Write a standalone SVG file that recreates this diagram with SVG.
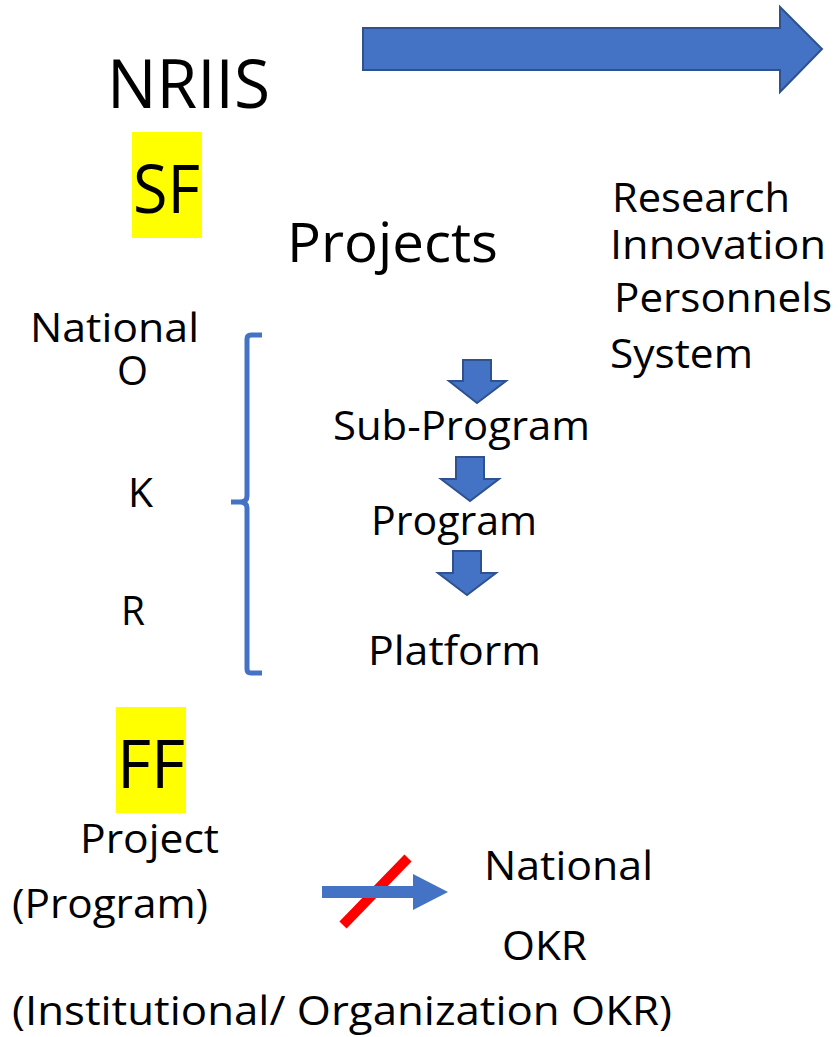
<svg xmlns="http://www.w3.org/2000/svg" width="840" height="1037" viewBox="0 0 840 1037">
<style>
text{font-family:"Open Sans","Noto Sans","Liberation Sans",sans-serif;fill:#000}
.t40{font-size:40px}
.big{font-size:68px}
.blue{fill:#4472C4;stroke:#2F528F;stroke-width:2}
.hl{fill:#FFFF00}
</style>
<rect width="840" height="1037" fill="#fff"/>
<g id="nriis"><text class="big" x="107" y="108" textLength="163" lengthAdjust="spacingAndGlyphs">NRIIS</text></g>
<g id="main-arrow"><path class="blue" d="M363,28 L780,28 L780,7 L822,49 L780,92 L780,70 L363,70 Z"/></g>
<g id="sf"><rect class="hl" x="132" y="132" width="70" height="106"/><text class="big" x="133" y="213" textLength="67" lengthAdjust="spacingAndGlyphs">SF</text></g>
<g id="projects"><text style="font-size:54px" x="287" y="262" textLength="211" lengthAdjust="spacingAndGlyphs">Projects</text></g>
<g id="rips">
<text class="t40" x="612" y="212" textLength="178" lengthAdjust="spacingAndGlyphs">Research</text>
<text class="t40" x="610" y="259" textLength="216" lengthAdjust="spacingAndGlyphs">Innovation</text>
<text class="t40" x="614" y="312" textLength="218" lengthAdjust="spacingAndGlyphs">Personnels</text>
<text class="t40" x="610" y="368" textLength="143" lengthAdjust="spacingAndGlyphs">System</text>
</g>
<g id="okr">
<text class="t40" x="30" y="342" textLength="169" lengthAdjust="spacingAndGlyphs">National</text>
<text class="t40" x="117" y="385" textLength="31" lengthAdjust="spacingAndGlyphs">O</text>
<text class="t40" x="128" y="507" textLength="25" lengthAdjust="spacingAndGlyphs">K</text>
<text class="t40" x="121" y="625" textLength="24" lengthAdjust="spacingAndGlyphs">R</text>
</g>
<g id="bracket"><path d="M262,335 L251,335 Q247,335 247,339 L247,496 Q247,502 240,502 L231,502 L240,502 Q247,502 247,508 L247,669 Q247,673 251,673 L262,673" fill="none" stroke="#4472C4" stroke-width="5"/></g>
<g id="connectors">
<path class="blue" d="M463,360 L491,360 L491,381 L506,381 L477,403 L449,381 L463,381 Z"/>
<path class="blue" d="M456,457 L484,457 L484,479 L499,479 L470,501 L441,479 L456,479 Z"/>
<path class="blue" d="M453,551 L481,551 L481,573 L496,573 L467,595 L438,573 L453,573 Z"/>
<line x1="343" y1="925" x2="408" y2="858" stroke="#FF0000" stroke-width="10"/>
<path d="M322,886 L413,886 L413,874 L448,892 L413,910 L413,898 L322,898 Z" fill="#4472C4"/>
</g>
<g id="subprogram"><text class="t40" x="333" y="440" textLength="257" lengthAdjust="spacingAndGlyphs">Sub-Program</text></g>
<g id="program"><text class="t40" x="371" y="535" textLength="166" lengthAdjust="spacingAndGlyphs">Program</text></g>
<g id="platform"><text class="t40" x="368" y="665" textLength="173" lengthAdjust="spacingAndGlyphs">Platform</text></g>
<g id="ff"><rect class="hl" x="116" y="707" width="70" height="106"/><text class="big" x="117" y="788" textLength="68" lengthAdjust="spacingAndGlyphs">FF</text></g>
<g id="project"><text class="t40" x="80" y="853" textLength="139" lengthAdjust="spacingAndGlyphs">Project</text></g>
<g id="program-paren"><text class="t40" x="12" y="918" textLength="196" lengthAdjust="spacingAndGlyphs">(Program)</text></g>
<g id="national-okr">
<text class="t40" x="484" y="880" textLength="169" lengthAdjust="spacingAndGlyphs">National</text>
<text class="t40" x="502" y="960" textLength="85" lengthAdjust="spacingAndGlyphs">OKR</text>
</g>
<g id="institutional"><text class="t40" x="12" y="1025" textLength="660" lengthAdjust="spacingAndGlyphs">(Institutional/ Organization OKR)</text></g>
</svg>
